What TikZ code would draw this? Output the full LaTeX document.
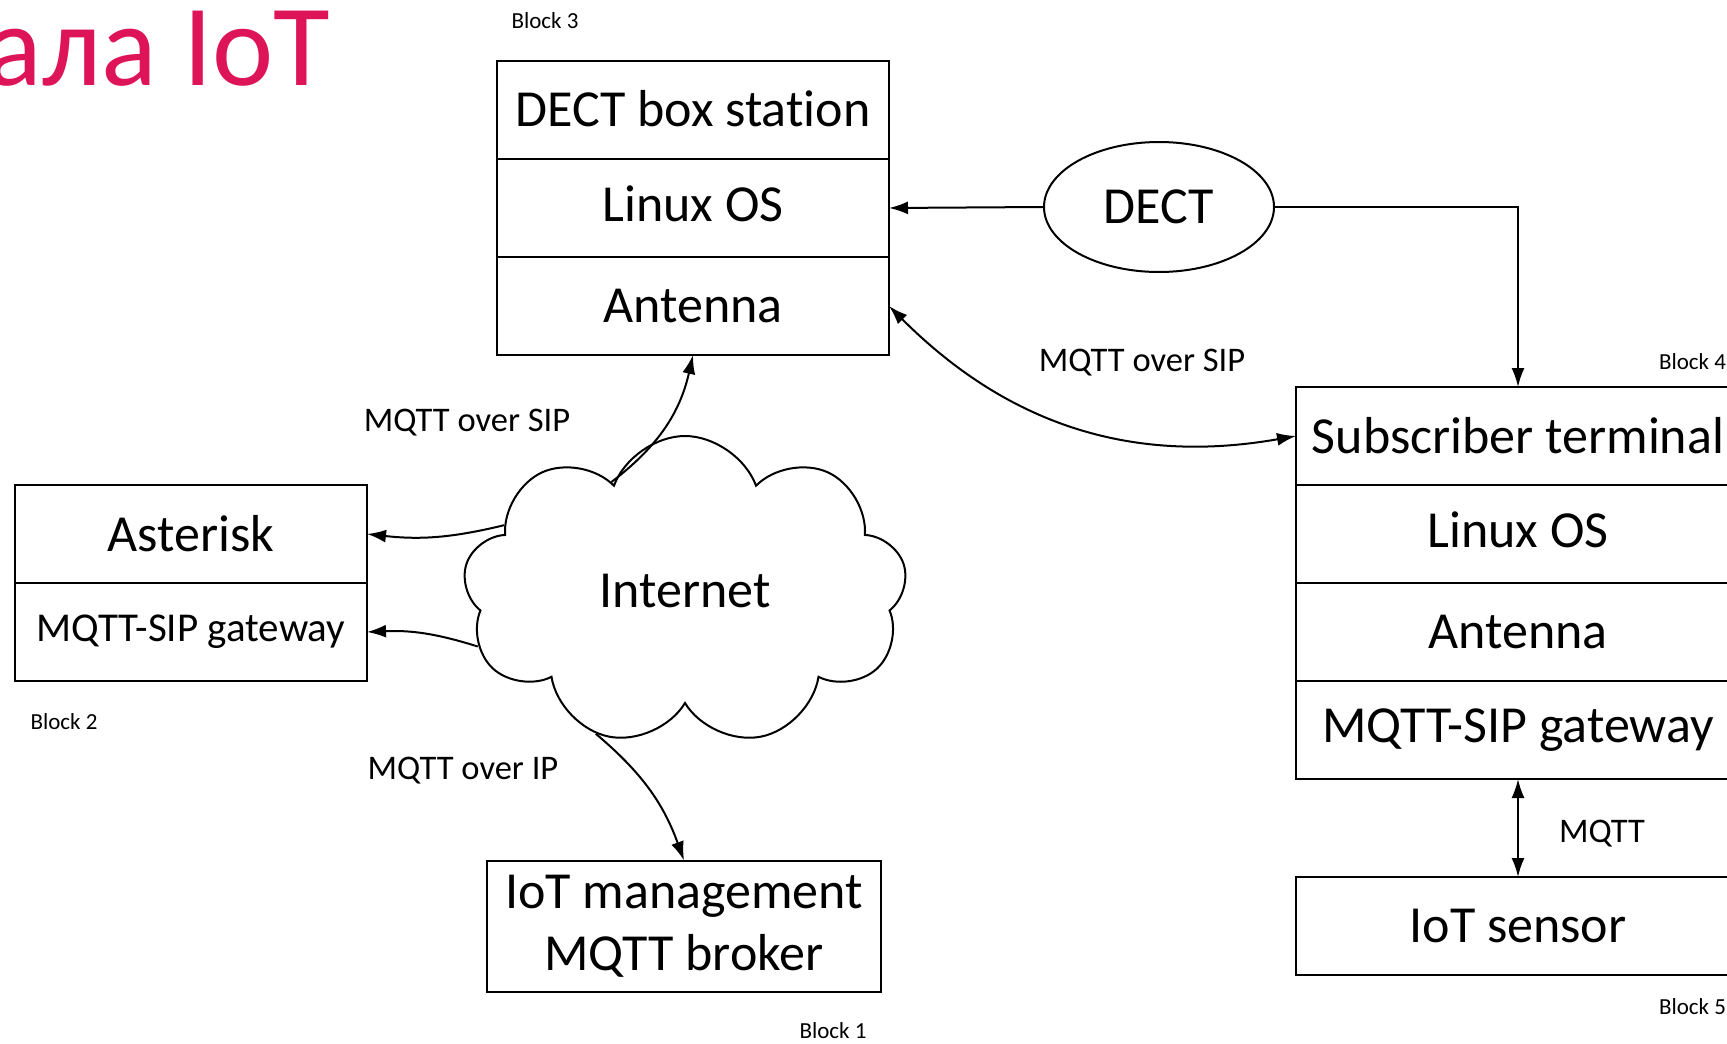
\documentclass[tikz,border=0pt]{standalone}
\usepackage{fontspec}
\setmainfont{Carlito}[Ligatures=NoCommon]
\usetikzlibrary{positioning,shapes.geometric,shapes.symbols,arrows.meta}
\definecolor{titlered}{RGB}{222,20,88}
\begin{document}
\begin{tikzpicture}[x=1pt,y=-1pt,line width=2pt,>={Latex[length=19pt,width=13pt]},
  layer/.style={draw,inner sep=0pt,outer sep=0pt,minimum height=98pt,font=\fontsize{52}{62}\selectfont},
  lbl/.style={inner sep=0pt,font=\fontsize{34.5}{40}\selectfont},
  blk/.style={inner sep=0pt,font=\fontsize{23}{28}\selectfont}]
  \useasboundingbox (0,0) rectangle (1727,1044);
  \node[anchor=base east,inner sep=0pt,text=titlered,font=\fontsize{116}{130}\selectfont] (title) at (331,85) {ала IoT};
  % block 3
  \node[layer,minimum width=392pt] (dect3) at (693,110) {\raisebox{3pt}{DECT box station}};
  \node[layer,minimum width=392pt,below=0pt of dect3] (os3) {\raisebox{9pt}{Linux OS}};
  \node[layer,minimum width=392pt,below=0pt of os3] (ant3) {Antenna};
  \node[blk] (b3) at (545,21) {Block 3};
  % block 2
  \node[layer,minimum width=352pt] (ast) at (191,534) {Asterisk};
  \node[layer,minimum width=352pt,below=0pt of ast,font=\fontsize{41}{48}\selectfont] (gw) {\raisebox{5pt}{MQTT-SIP gateway}};
  \node[blk] (b2) at (64,722) {Block 2};
  % block 1
  \node[layer,minimum width=394pt,minimum height=131pt,align=center] (mgmt) at (684,926) {IoT management\\MQTT broker};
  \node[blk] (b1) at (833,1031) {Block 1};
  % block 4 and 5
  \node[layer,minimum width=444pt] (sub) at (1518,436) {Subscriber terminal};
  \node[layer,minimum width=444pt,below=0pt of sub] (os4) {\raisebox{9pt}{Linux OS}};
  \node[layer,minimum width=444pt,below=0pt of os4] (ant4) {Antenna};
  \node[layer,minimum width=444pt,below=0pt of ant4] (gw4) {\raisebox{-7pt}{MQTT-SIP gateway}};
  \node[layer,minimum width=444pt] (sensor) at (1518,926) {IoT sensor};
  \node[blk,anchor=west] (b4) at (1658,362) {Block 4};
  \node[blk,anchor=west] (b5) at (1658,1007) {Block 5};
  % radio and network
  \node[draw,ellipse,minimum width=230pt,minimum height=130pt,inner sep=0pt,font=\fontsize{52}{62}\selectfont] (dect) at (1159,207) {DECT};
  \node[draw,cloud,cloud puffs=9,cloud puff arc=140,aspect=1.43,minimum width=444pt,minimum height=310pt,inner sep=0pt,font=\fontsize{52}{62}\selectfont] (internet) at (685,591) {Internet};
  \draw[->] (dect.west) -- (os3.east);
  \draw[->] (dect.east) -| (sub.north);
  \draw[<->] (ant3.east) to[out=-45,in=190] (sub.west);
  \draw[->] (internet.124) to[bend right=20] (ant3.south);
  \draw[->] (internet.160) to[bend left=10] (ast.east);
  \draw[->] (internet.195) to[bend right=10] (gw.east);
  \draw[->] (internet.238) to[bend left=15] (mgmt.north);
  \draw[<->] (gw4.south) -- (sensor.north);
  \node[lbl] (l1) at (467,423) {MQTT over SIP};
  \node[lbl] (l2) at (463,771) {MQTT over IP};
  \node[lbl] (l3) at (1142,363) {MQTT over SIP};
  \node[lbl] (l4) at (1602,834) {MQTT};
\end{tikzpicture}
\end{document}
